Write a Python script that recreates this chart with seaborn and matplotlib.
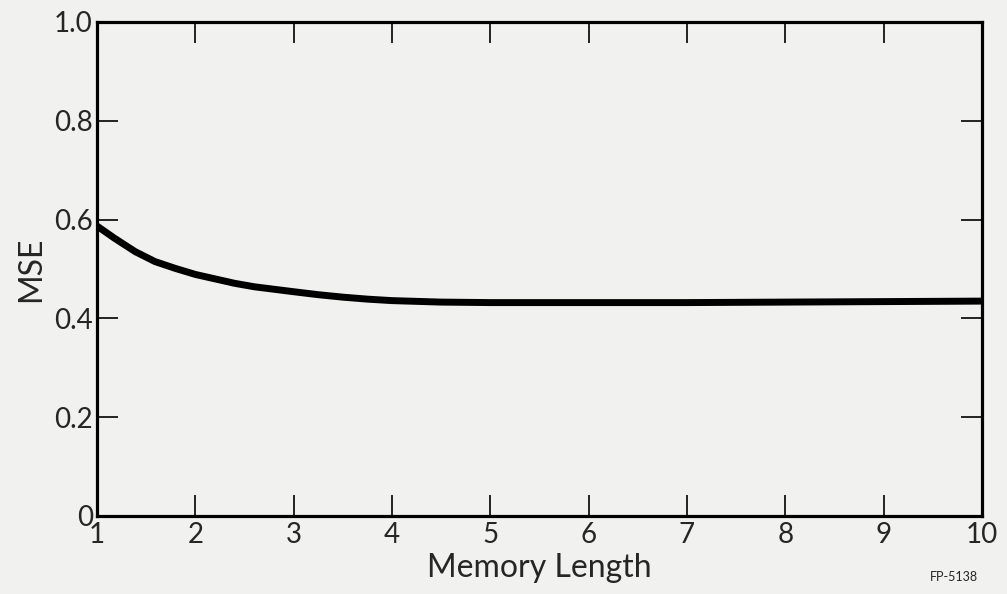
import matplotlib
matplotlib.use("Agg")
import matplotlib.pyplot as plt
import seaborn as sns
import pandas as pd

memory_length = [1.0, 1.18, 1.39, 1.59, 1.8, 2.0, 2.2, 2.4, 2.6, 2.8, 3.0, 3.25, 3.5, 3.75, 4.0,
                 4.5, 5.0, 5.5, 6.0, 7.0, 8.0, 9.0, 10.0]
mse = [0.587, 0.562, 0.535, 0.515, 0.501, 0.489, 0.480, 0.471, 0.464, 0.459, 0.454, 0.448, 0.443,
       0.439, 0.436, 0.433, 0.432, 0.432, 0.432, 0.432, 0.433, 0.434, 0.435]
x_ticks = [1, 2, 3, 4, 5, 6, 7, 8, 9, 10]
y_ticks = [0, 0.2, 0.4, 0.6, 0.8, 1.0]
y_tick_labels = ["0", "0.2", "0.4", "0.6", "0.8", "1.0"]

sns.set_style("ticks")
plt.rcParams['font.family'] = ['Lato', 'DejaVu Sans']
bg = "#f1f1ef"

fig = plt.figure(figsize=(10.07, 5.94), dpi=100, facecolor=bg)
ax = fig.add_axes([97/1007, 1 - 516/594, (982-97)/1007, (516-22)/594])
ax.set_facecolor(bg)

df = pd.DataFrame({"Memory Length": memory_length, "MSE": mse})
sns.lineplot(data=df, x="Memory Length", y="MSE", ax=ax, color="black", linewidth=5,
             solid_capstyle="butt", solid_joinstyle="round")

ax.set_xlim(1, 10)
ax.set_ylim(0, 1.0)
ax.set_xticks(x_ticks)
ax.set_yticks(y_ticks)
ax.set_yticklabels(y_tick_labels)

for s in ax.spines.values():
    s.set_visible(True)
    s.set_linewidth(2.3)
    s.set_color("black")

ax.tick_params(axis="both", direction="in", length=15, width=1.2, color="black",
               labelsize=20, pad=3, top=True, right=True)
ax.tick_params(axis="x", pad=4)

ax.set_xlabel("Memory Length", fontsize=23, labelpad=4)
ax.set_ylabel("MSE", fontsize=23, labelpad=6)

fig.text(978/1007, 1 - 577/594, "FP-5138", fontsize=9, ha="right", va="center")

fig.savefig("out.png", dpi=100, facecolor=bg)
